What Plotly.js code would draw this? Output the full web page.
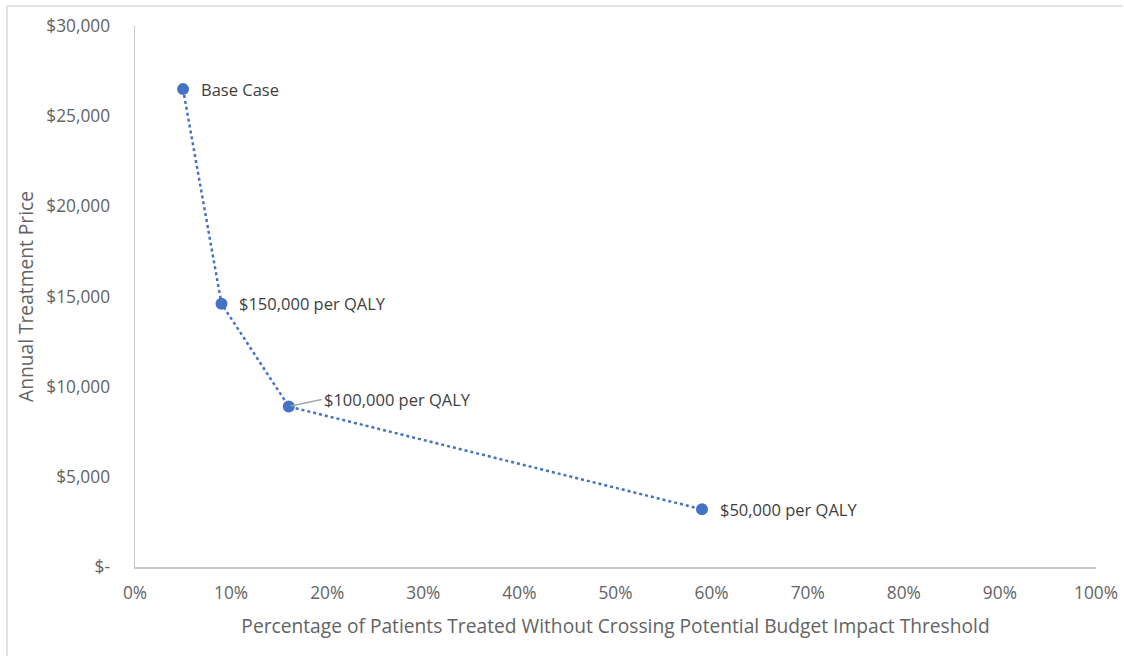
<!DOCTYPE html>
<html>
<head>
<meta charset="utf-8">
<script src="https://cdn.plot.ly/plotly-3.0.1.min.js"></script>
<style>
html,body{margin:0;padding:0;background:#fff;}
#chart{width:1124px;height:656px;}
</style>
</head>
<body>
<div id="chart"></div>
<script>
// Data
const pctTreated = [5, 9, 16, 59];             // % of patients treated
const annualPrice = [26500, 14600, 8900, 3200]; // annual treatment price ($)
const pointLabels = ["Base Case", "$150,000 per QALY", "$100,000 per QALY", "$50,000 per QALY"];

const xTickVals = [0, 10, 20, 30, 40, 50, 60, 70, 80, 90, 100];
const xTickText = ["0%", "10%", "20%", "30%", "40%", "50%", "60%", "70%", "80%", "90%", "100%"];
const yTickVals = [0, 5000, 10000, 15000, 20000, 25000, 30000];
const yTickText = ["$-", "$5,000", "$10,000", "$15,000", "$20,000", "$25,000", "$30,000"];

const FONT = "Open Sans, Segoe UI, sans-serif";
const BLUE = "#4472C4";
const GRAY = "#636363";

const trace = {
  x: pctTreated,
  y: annualPrice,
  type: "scatter",
  mode: "lines+markers",
  line: {color: BLUE, width: 2.5, dash: "dot"},
  marker: {color: BLUE, size: 12},
  hoverinfo: "skip",
  cliponaxis: false
};

const annotations = pointLabels.map((t, i) => {
  const leader = (i === 2);
  const a = {
    x: pctTreated[i], y: annualPrice[i], xref: "x", yref: "y",
    text: t, font: {family: FONT, size: 16.5, color: "#404040"},
    xanchor: "left", yanchor: "middle"
  };
  if (leader) {
    Object.assign(a, {showarrow: true, arrowhead: 0, arrowwidth: 1.5, arrowcolor: "#a6a6a6",
      ax: 33, ay: -7, standoff: 2});
  } else {
    Object.assign(a, {showarrow: false, xshift: 16});
  }
  return a;
});

const layout = {
  width: 1124, height: 656,
  margin: {l: 135, r: 28, t: 26, b: 89},
  paper_bgcolor: "#ffffff", plot_bgcolor: "#ffffff",
  showlegend: false,
  font: {family: FONT, color: GRAY},
  xaxis: {
    range: [0, 100], tickvals: xTickVals, ticktext: xTickText,
    showgrid: false, zeroline: false, showline: true, linecolor: "#c8c8c8", linewidth: 1.5,
    ticks: "", ticklabelstandoff: 10,
    tickfont: {family: FONT, size: 17.3, color: GRAY},
    title: {text: "Percentage of Patients Treated Without Crossing Potential Budget Impact Threshold",
      font: {family: FONT, size: 19.2, color: GRAY}, standoff: 16},
    fixedrange: true
  },
  yaxis: {
    range: [0, 30000], tickvals: yTickVals, ticktext: yTickText,
    showgrid: false, zeroline: false, showline: true, linecolor: "#c8c8c8", linewidth: 1.5,
    ticks: "", ticklabelstandoff: 20,
    tickfont: {family: FONT, size: 17.3, color: GRAY},
    title: {text: "Annual Treatment Price", font: {family: FONT, size: 19.2, color: GRAY}, standoff: 7},
    fixedrange: true
  },
  annotations: annotations,
  shapes: [
    {type: "line", xref: "paper", yref: "paper", x0: -0.1332, x1: 1.028, y0: 1.037, y1: 1.037,
      line: {color: "#d9d9d9", width: 1.5}},
    {type: "line", xref: "paper", yref: "paper", x0: -0.1332, x1: -0.1332, y0: 1.037, y1: -0.2,
      line: {color: "#d9d9d9", width: 1.5}}
  ]
};

Plotly.newPlot("chart", [trace], layout, {displayModeBar: false, staticPlot: true});
</script>
</body>
</html>
